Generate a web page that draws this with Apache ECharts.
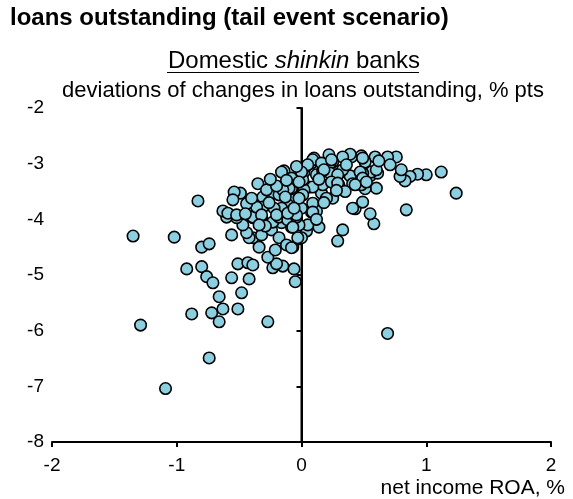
<!DOCTYPE html>
<html>
<head>
<meta charset="utf-8">
<script src="https://cdn.jsdelivr.net/npm/echarts@6/dist/echarts.min.js"></script>
<style>html,body{margin:0;padding:0;background:#fff;}#c{width:573px;height:499px;}</style>
</head>
<body>
<div id="c"></div>
<script>
var titleText = 'loans outstanding (tail event scenario)';
var panelTitlePre = 'Domestic ';
var panelTitleItalic = 'shinkin';
var panelTitlePost = ' banks';
var yUnitText = 'deviations of changes in loans outstanding, % pts';
var xAxisTitle = 'net income ROA, %';
var xTicks = [-2, -1, 0, 1, 2];
var yTicks = [-8, -7, -6, -5, -4, -3, -2];
var zeroLine = [[0, -2], [0, -8]];

var roa = [-1.35,-1.02,-0.83,-0.80,-0.74,-0.92,-0.80,-0.76,-0.71,-0.56,-0.51,-0.43,-0.39,-0.42,-0.48,-0.66,-0.88,-0.72,-0.63,-0.51,-0.66,-0.27,-1.29,-0.74,-1.09,0.69,
-0.05,-0.06,-0.07,-0.02,0.29,0.33,0.14,0.04,0.05,0.00,-0.23,-0.15,-0.20,-0.27,-0.21,-0.34,-0.39,-0.42,-0.44,-0.56,-0.32,-0.24,-0.18,-0.12,-0.08,-0.03,-0.08,-0.16,-0.02,-0.23,-0.32,-0.39,-0.47,-0.52,-0.60,-0.18,-0.11,
0.58,0.55,0.84,0.43,0.49,1.24,1.12,1.00,0.93,0.87,0.83,0.79,0.80,0.76,0.69,0.71,0.59,0.51,0.48,0.40,0.39,0.33,0.25,0.23,0.23,0.30,0.39,0.41,0.55,0.61,0.56,0.49,0.60,0.51,0.48,0.25,0.16,0.12,0.08,0.00,-0.04,-0.07,0.01,0.00,0.08,0.12,0.17,0.17,0.06,-0.08,-0.07,0.09,0.02,0.10,0.22,0.33,0.30,
0.09,0.16,0.24,0.49,0.01,0.05,0.18,0.29,0.47,0.49,0.60,0.43,0.52,0.09,0.02,0.01,0.24,0.29,0.41,0.01,0.09,
-0.14,-0.08,0.00,-0.35,-0.49,-0.54,-0.55,-0.63,-0.59,-0.52,-0.39,-0.31,-0.24,-0.28,-0.18,-0.10,-0.15,-0.11,-0.16,-0.22,-0.31,-0.36,-0.02,-0.02,-0.20,-0.32,-0.04,-0.11,
-0.16,-0.20,-0.25,-0.13,-0.44,-0.40,-0.26,-0.06,-0.29,0.12,0.20,0.35,0.62,0.14,0.36,-0.04,-0.45,-0.34,0.18,0.28,-0.12];

var loanDev = [-4.30,-4.32,-3.67,-4.50,-4.44,-4.89,-4.85,-5.03,-5.14,-5.05,-4.80,-4.78,-4.82,-5.07,-5.32,-5.39,-5.70,-5.68,-5.61,-5.61,-5.84,-5.84,-5.90,-6.49,-7.04,-6.05,
-5.12,-4.89,-4.50,-4.35,-4.39,-4.19,-4.14,-4.21,-4.10,-4.33,-4.87,-4.84,-4.80,-4.68,-4.55,-4.50,-4.33,-4.33,-4.24,-4.28,-4.28,-4.19,-4.33,-4.46,-4.51,-4.33,-4.14,-4.06,-4.10,-4.05,-3.97,-3.97,-4.10,-3.97,-3.96,-3.96,-4.01,
-4.08,-3.90,-3.83,-3.81,-3.69,-3.53,-3.15,-3.20,-3.19,-3.23,-3.31,-3.23,-3.11,-2.88,-2.88,-3.02,-2.88,-2.97,-2.86,-2.88,-2.83,-2.88,-2.97,-2.99,-3.17,-3.18,-3.22,-3.36,-3.22,-3.17,-3.15,-3.17,-3.44,-3.45,-3.38,-3.62,-3.53,-3.85,-3.87,-3.80,-3.96,-4.14,-3.51,-3.33,-2.99,-3.20,-3.13,-3.38,-3.42,-3.44,-3.65,-3.71,-3.15,-2.90,-2.84,-3.11,-3.38,
-2.93,-2.99,-2.93,-2.90,-3.11,-3.02,-3.11,-3.20,-3.15,-3.26,-3.11,-3.38,-3.33,-3.42,-3.47,-3.29,-3.33,-3.35,-3.80,-3.56,-3.87,
-3.13,-3.26,-3.15,-3.36,-3.53,-3.51,-3.65,-3.85,-3.89,-3.92,-3.96,-3.60,-3.54,-3.47,-3.56,-3.44,-3.47,-3.74,-3.80,-3.80,-3.78,-3.78,-3.62,-3.33,-3.92,-3.92,-3.92,-3.89,
-3.15,-3.40,-3.28,-3.60,-3.72,-3.62,-3.70,-3.80,-4.12,-4.00,-3.62,-3.50,-2.95,-3.28,-3.02,-3.05,-3.90,-4.10,-3.70,-3.48,-3.30];

var pts = roa.map(function (v, i) { return [v, loanDev[i]]; });

var FONT = '"Liberation Sans", Arial, sans-serif';
var chart = echarts.init(document.getElementById('c'), null, {renderer: 'canvas'});
chart.setOption({
  animation: false,
  backgroundColor: '#fff',
  title: [
    {text: titleText, left: 5, top: 1, textStyle: {fontFamily: FONT, fontWeight: 'bold', fontSize: 24, color: '#000'}},
    {text: '{n|' + panelTitlePre + '}{i|' + panelTitleItalic + '}{n|' + panelTitlePost + '}', left: 289, top: 44, textAlign: 'center',
     textStyle: {fontWeight: 'normal', rich: {n: {fontFamily: FONT, fontSize: 24, fontWeight: 'normal', color: '#000'}, i: {fontFamily: FONT, fontSize: 24, fontWeight: 'normal', fontStyle: 'italic', color: '#000'}}}},
    {text: yUnitText, left: 298, top: 75, textAlign: 'center', textStyle: {fontFamily: FONT, fontWeight: 'normal', fontSize: 22, color: '#000'}},
    {text: xAxisTitle, right: 3, top: 473, textStyle: {fontFamily: FONT, fontWeight: 'normal', fontSize: 21, color: '#000'}}
  ],
  graphic: [
    {type: 'line', shape: {x1: 167, y1: 72.5, x2: 419, y2: 72.5}, style: {stroke: '#000', lineWidth: 1}}
  ],
  grid: {left: 52, right: 22, top: 108, bottom: 57, containLabel: false},
  xAxis: {
    type: 'value', min: xTicks[0], max: xTicks[xTicks.length - 1], interval: 1,
    splitLine: {show: false},
    axisLine: {lineStyle: {color: '#000', width: 2}},
    axisTick: {show: true, inside: false, length: 5, lineStyle: {color: '#000', width: 2}},
    axisLabel: {color: '#000', fontFamily: FONT, fontSize: 19, margin: 14}
  },
  yAxis: {
    type: 'value', min: yTicks[0], max: yTicks[yTicks.length - 1], interval: 1,
    splitLine: {show: false},
    axisLine: {lineStyle: {color: '#000', width: 2}},
    axisTick: {show: true, inside: false, length: 5, lineStyle: {color: '#000', width: 2}},
    axisLabel: {color: '#000', fontFamily: FONT, fontSize: 19, margin: 8}
  },
  series: [
    {type: 'line', data: zeroLine, symbol: 'none', z: 1, silent: true, lineStyle: {color: '#000', width: 2}},
    {type: 'scatter', data: pts, z: 3, symbol: 'circle', symbolSize: 11.5,
     itemStyle: {color: '#8ccfe0', borderColor: '#000', borderWidth: 1.6, opacity: 1}}
  ]
});
</script>
</body>
</html>
